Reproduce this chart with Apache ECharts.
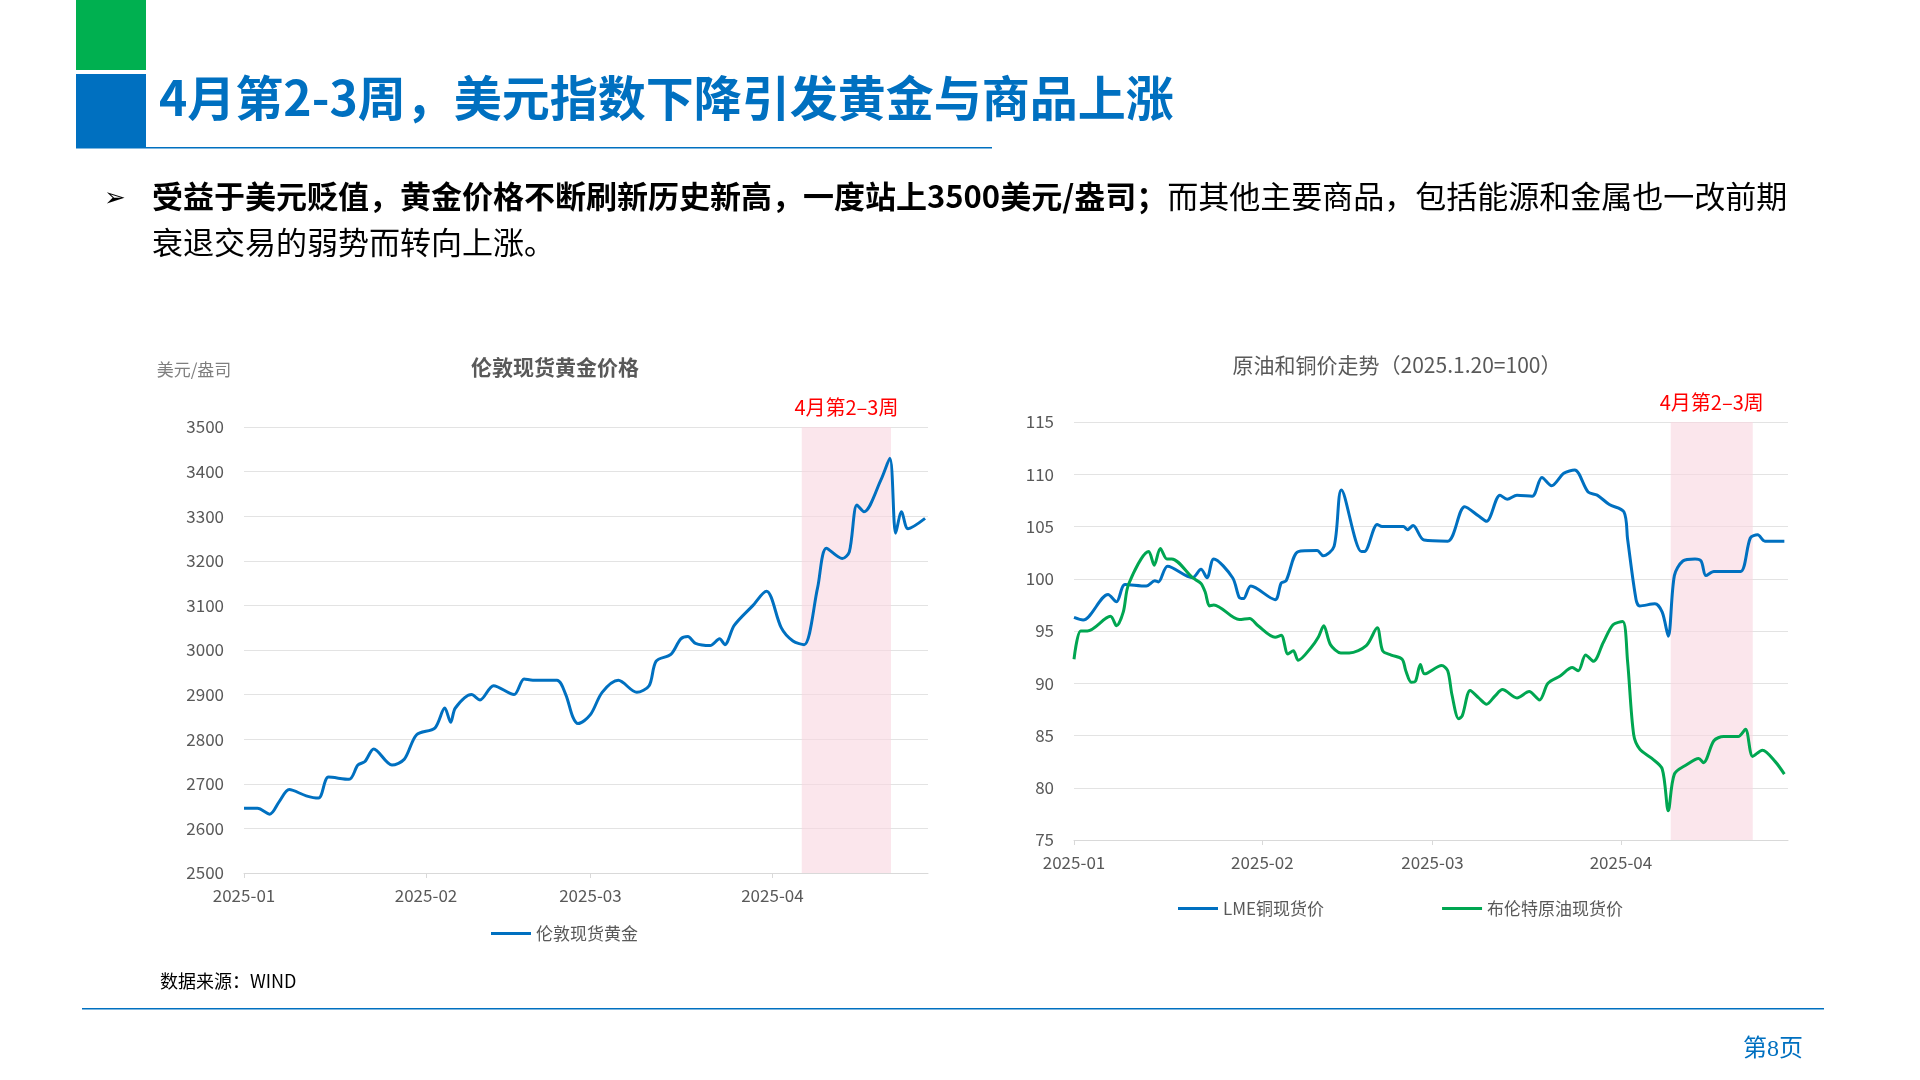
<!DOCTYPE html>
<html><head><meta charset="utf-8">
<script src="https://cdn.jsdelivr.net/npm/echarts@6/dist/echarts.min.js"></script>
<style>html,body{margin:0;padding:0;background:#fff}#c{width:1920px;height:1080px}</style>
</head><body><div id="c"></div>
<script>
// Days since 2025-01-01 and values
const goldDays = [0,2.3,4.4,6.0,7.7,10.6,12.7,14.4,17.9,19.4,20.6,22.1,25.2,27.3,29.4,32.5,34.2,35.2,36.0,38.75,40.2,42.5,46.0,47.7,49.2,53.3,54.8,56.0,56.9,59.0,61.0,63.75,66.9,69.0,70.2,72.7,74.4,75.6,76.9,79.4,81.0,81.9,83.5,86.7,89.0,89.8,91.5,93.5,95.4,97.7,99.2,101.9,103.1,104.4,105.6,108.5,110.0,111.0,112.0,113.1,116.0];
const goldVals = [2645,2645,2632,2660,2687,2673,2668,2715,2710,2742,2750,2778,2742,2755,2810,2825,2870,2838,2870,2900,2888,2920,2900,2935,2932,2932,2900,2850,2835,2855,2905,2932,2905,2920,2975,2990,3025,3030,3015,3010,3025,3012,3055,3100,3132,3118,3050,3020,3012,3140,3228,3205,3220,3325,3310,3382,3430,3262,3310,3272,3295];
const copperDays = [0,1.5,5.6,7.0,8.4,11.9,13.3,13.9,15.4,19.5,20.9,21.9,23.0,26.1,27.2,27.9,29.1,33.1,34.1,34.9,36.9,40.0,41.0,42.8,44.0,47.3,47.8,49.9,50.7,54.2,54.9,55.8,57.6,61.5,64.3,66.6,67.9,70.1,71.3,72.9,75.4,77.0,78.6,80.6,82.4,84.6,86.1,88.1,90.5,91.1,92.5,93.1,95.6,96.8,97.8,98.8,100.2,102.2,103.2,104.0,105.3,107.3,109.7,111.3,112.5,113.7,116.9];
const copperVals = [96.3,96.05,98.5,97.8,99.45,99.3,99.8,99.7,101.2,100.1,100.9,100.1,101.9,100.1,98.2,98.1,99.3,98.0,99.6,99.8,102.6,102.7,102.2,103.1,108.5,102.6,102.6,105.2,105.0,105.0,104.7,105.1,103.7,103.6,106.9,106.0,105.5,108.0,107.6,108.0,107.9,109.7,108.9,110.1,110.4,108.3,108.0,107.1,106.4,103.8,98.0,97.4,97.6,96.8,94.5,100.3,101.7,101.9,101.7,100.3,100.7,100.7,100.7,103.9,104.2,103.6,103.6];
const oilDays = [0,1.1,2.2,6.0,7.0,8.1,9.0,12.3,13.2,14.2,15.3,16.1,19.5,20.9,21.6,22.3,23.0,27.2,28.9,30.3,33.1,34.1,35.2,36.1,36.9,39.0,40.2,41.1,42.2,43.9,45.3,48.1,49.9,50.8,52.2,54.0,54.6,55.5,56.2,57.0,57.7,60.5,61.5,62.2,63.3,63.9,65.2,66.6,67.9,69.3,70.5,72.9,74.9,76.6,78.0,80.0,82.0,83.0,84.2,85.5,87.1,88.7,90.3,91.1,92.1,93.1,95.1,96.8,97.8,98.8,100.8,102.8,103.6,105.3,106.9,109.3,110.5,111.7,113.3,115.4,116.9];
const oilVals = [92.3,95.0,95.0,96.4,95.5,96.8,99.5,102.6,101.3,102.9,101.9,101.9,100.1,99.55,98.7,97.4,97.5,96.1,96.2,95.5,94.4,94.6,92.8,93.1,92.2,93.4,94.4,95.5,93.7,92.9,92.9,93.6,95.3,93.1,92.7,92.3,91.2,90.1,90.2,91.8,90.9,91.7,91.2,88.9,86.6,86.9,89.3,88.6,88.0,88.8,89.4,88.6,89.2,88.4,90.0,90.7,91.5,91.2,92.7,92.1,93.9,95.6,95.9,92.1,85.1,83.7,82.8,81.8,77.8,81.3,82.2,82.8,82.4,84.5,84.9,84.9,85.6,83.0,83.6,82.5,81.3];
const monthDays = [0, 31, 59, 90];
const monthLabels = ['2025-01','2025-02','2025-03','2025-04'];
const goldShade = [95.0, 110.2];
const oilShade = [98.2, 111.7];
const leftYTicks = [2500, 3500, 100];
const rightYTicks = [75, 115, 5];

const pairs = (ds, vs) => ds.map((d,i)=>[d, vs[i]]);
const FONT = '"Noto Sans CJK SC", "Microsoft YaHei", sans-serif';
const grey = '#595959';

function xAx(idx, maxDay){
  return {type:'value', gridIndex:idx, min:0, max:maxDay,
    axisLine:{lineStyle:{color:'#d9d9d9'}}, axisTick:{show:true, customValues:monthDays, lineStyle:{color:'#d9d9d9'}},
    axisLabel:{customValues:monthDays, formatter:v => monthLabels[monthDays.indexOf(v)] || '', color:grey, fontSize:17, fontFamily:FONT, margin:14},
    splitLine:{show:false}};
}
function yAx(idx, t){
  return {type:'value', gridIndex:idx, min:t[0], max:t[1], interval:t[2],
    axisLine:{show:false}, axisTick:{show:false},
    axisLabel:{color:grey, fontSize:17, fontFamily:FONT, margin:20, formatter:v => String(v)},
    splitLine:{lineStyle:{color:'#e3e3e3'}}};
}
function shade(r){
  return {silent:true, itemStyle:{color:'rgba(248,214,224,0.6)'},
    label:{show:true, position:'top', color:'#ff0000', fontSize:20, fontFamily:FONT, distance:10},
    data:[[{xAxis:r[0], name:'4月第2–3周'},{xAxis:r[1]}]]};
}

const chart = echarts.init(document.getElementById('c'));
chart.setOption({
  animation:false,
  grid:[{left:244, right:992, top:427, bottom:207},{left:1074, right:132, top:422, bottom:240}],
  xAxis:[xAx(0,116.5), xAx(1,117.5)],
  yAxis:[yAx(0,leftYTicks), yAx(1,rightYTicks)],
  legend:[
    {data:['伦敦现货黄金'], left:486, top:920, icon:'rect', itemWidth:40, itemHeight:3, textStyle:{color:grey,fontSize:17,fontFamily:FONT}},
    {data:['LME铜现货价','布伦特原油现货价'], left:1173, top:895, icon:'rect', itemWidth:40, itemHeight:3, itemGap:118, textStyle:{color:grey,fontSize:17,fontFamily:FONT}}
  ],
  series:[
    {name:'伦敦现货黄金', type:'line', xAxisIndex:0, yAxisIndex:0, data:pairs(goldDays,goldVals), smooth:0.3, showSymbol:false, lineStyle:{width:3, color:'#0070C0'}, itemStyle:{color:'#0070C0'}, markArea:shade(goldShade)},
    {name:'LME铜现货价', type:'line', xAxisIndex:1, yAxisIndex:1, data:pairs(copperDays,copperVals), smooth:0.3, showSymbol:false, lineStyle:{width:3, color:'#0070C0'}, itemStyle:{color:'#0070C0'}, markArea:shade(oilShade), z:3},
    {name:'布伦特原油现货价', type:'line', xAxisIndex:1, yAxisIndex:1, data:pairs(oilDays,oilVals), smooth:0.3, showSymbol:false, lineStyle:{width:3, color:'#00A651'}, itemStyle:{color:'#00A651'}}
  ],
  graphic:[
    {type:'rect', shape:{x:76,y:0,width:70,height:70}, style:{fill:'#00B050'}},
    {type:'rect', shape:{x:76,y:74,width:70,height:74}, style:{fill:'#0070C0'}},
    {type:'rect', shape:{x:76,y:147,width:916,height:1.5}, style:{fill:'#0070C0'}},
    {type:'text', x:159, y:98, style:{text:'4月第2-3周，美元指数下降引发黄金与商品上涨', fill:'#0070C0', font:'bold 48px '+FONT, verticalAlign:'middle'}},
    {type:'text', x:104, y:196, style:{text:'➢', fill:'#000', font:'26px '+FONT, verticalAlign:'middle'}},
    {type:'text', x:152, y:196, style:{rich:{b:{font:'bold 31px '+FONT, fill:'#000'}, r:{font:'31px '+FONT, fill:'#000'}},
      text:'{b|受益于美元贬值，黄金价格不断刷新历史新高，一度站上3500美元/盎司；}{r|而其他主要商品，包括能源和金属也一改前期}', verticalAlign:'middle'}},
    {type:'text', x:152, y:242, style:{text:'衰退交易的弱势而转向上涨。', fill:'#000', font:'31px '+FONT, verticalAlign:'middle'}},
    {type:'text', x:194, y:370, style:{text:'美元/盎司', fill:'#7f7f7f', font:'17px '+FONT, align:'center', verticalAlign:'middle'}},
    {type:'text', x:555, y:367, style:{text:'伦敦现货黄金价格', fill:grey, font:'bold 21px '+FONT, align:'center', verticalAlign:'middle'}},
    {type:'text', x:1397, y:365, style:{text:'原油和铜价走势（2025.1.20=100）', fill:grey, font:'21px '+FONT, align:'center', verticalAlign:'middle'}},
    {type:'text', x:160, y:981, style:{text:'数据来源：WIND', fill:'#000', font:'18px '+FONT, verticalAlign:'middle'}},
    {type:'rect', shape:{x:82,y:1008,width:1742,height:1.5}, style:{fill:'#0070C0'}},
    {type:'text', x:1773, y:1050, style:{text:'第8页', fill:'#0070C0', font:'24px "Liberation Serif", '+FONT, align:'center', verticalAlign:'middle'}}
  ]
});
</script></body></html>
